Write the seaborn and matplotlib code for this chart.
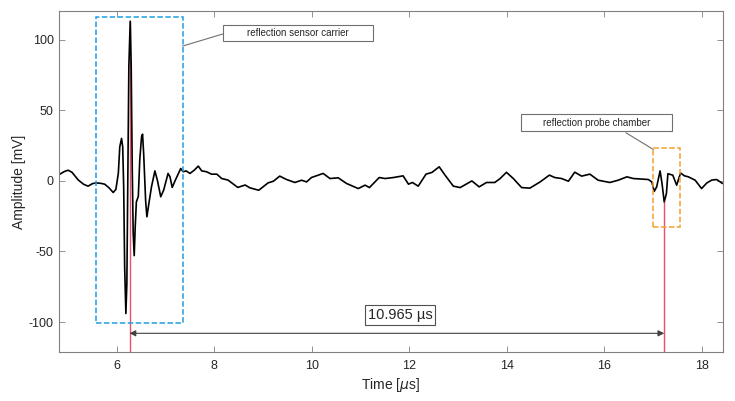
import matplotlib
matplotlib.use("Agg")
import matplotlib.pyplot as plt
import matplotlib.patches as patches
import seaborn as sns
import pandas as pd

# signal (time in us, amplitude in mV)
t_us = [4.82, 4.92, 5.00, 5.08, 5.21, 5.32, 5.41, 5.50, 5.58, 5.67, 5.75, 5.84, 5.925, 5.98,
        6.03, 6.06, 6.096, 6.12, 6.14, 6.16, 6.185, 6.205, 6.226, 6.246, 6.274, 6.294, 6.315,
        6.335, 6.356, 6.376, 6.40, 6.44, 6.47, 6.506, 6.527, 6.55, 6.59, 6.616, 6.657, 6.71,
        6.78, 6.83, 6.90, 6.96, 7.05, 7.09, 7.135, 7.20, 7.31, 7.36, 7.42, 7.50, 7.59, 7.67,
        7.74, 7.84, 7.94, 8.05, 8.15, 8.28, 8.48, 8.63, 8.73, 8.91, 9.10, 9.21, 9.34, 9.48,
        9.65, 9.79, 9.89, 9.99, 10.23, 10.37, 10.54, 10.71, 10.95, 11.09, 11.18, 11.38, 11.50,
        11.67, 11.87, 11.98, 12.06, 12.18, 12.34, 12.46, 12.61, 12.73, 12.90, 13.04, 13.28,
        13.43, 13.58, 13.75, 13.86, 13.99, 14.13, 14.30, 14.47, 14.68, 14.87, 14.98, 15.12,
        15.26, 15.39, 15.53, 15.70, 15.87, 16.11, 16.28, 16.46, 16.59, 16.90, 16.97, 17.02,
        17.07, 17.14, 17.18, 17.225, 17.27, 17.30, 17.40, 17.48, 17.56, 17.64, 17.72, 17.86,
        17.99, 18.10, 18.20, 18.30, 18.42]
amp_mv = [4.5, 6.5, 7.5, 6, 0.5, -2.5, -3.8, -2, -1.5, -1.8, -2.4, -5, -8.3, -6.1,
          5.2, 24, 30, 24, -4.3, -61, -94, -73, 10, 81, 113, 81, 10,
          -37, -53, -33, -15, -11, 15, 31, 33, 19, -14, -25.5, -16, -4.3,
          7, 0.5, -11.3, -6.6, 5.2, 2.8, -4.7, 0.5, 8.7, 6.4, 7, 5.2, 7.6, 10.4,
          7, 6.4, 4.7, 4.7, 1.6, 0.5, -4.7, -3, -5, -6.7, -1.5, -0.3, 3.3, 0.9,
          -1.2, 0.4, -0.8, 2.3, 5.2, 1.6, 2.1, -1.9, -5.5, -3.1, -4.8, 2.3, 1.6,
          2.3, 3.5, -2.4, -1.2, -3.8, 4.7, 5.9, 9.9, 4.0, -3.8, -4.8, -0.1,
          -4.3, -1.2, -1.2, 1.6, 6.0, 1.6, -4.8, -5.2, -0.8, 4.0, 2.3, 1.6,
          -0.3, 6.1, 3.3, 4.7, 0.4, -1.2, 0.4, 2.8, 1.6, 0.9, -0.8, -7.5,
          -4.3, 7.0, -2, -15, -9, 5.0, 4.0, -3.1, 5.5, 3.5, 2.8, 0.4,
          -5.5, -1.5, 0.5, 0.9, -1.9]

# the two reflections and the time between them
echo_t = [6.26, 17.225]
echo_amp = [113, -15]
delta_label = "10.965 µs"

xlim = (4.82, 18.42)
ylim = (-121, 120)

sns.set_style("ticks")
plt.rcParams["font.family"] = ["Liberation Sans", "DejaVu Sans"]
plt.rcParams["axes.unicode_minus"] = False

df = pd.DataFrame({"Time": t_us, "Amplitude": amp_mv})

fig = plt.figure(figsize=(7.35, 4.01), dpi=100)
ax = fig.add_axes([0.0807, 0.123, 0.9023, 0.8488])

# red markers at the two echoes
ax.vlines(echo_t, ylim[0], echo_amp, color="#e8506e", lw=1.0, zorder=1)

sns.lineplot(data=df, x="Time", y="Amplitude", ax=ax, color="black", lw=1.2, zorder=2)

# dashed windows round the reflections
ax.add_patch(patches.Rectangle((5.57, -100.5), 1.78, 216.5, fill=False, ec="#1f9fe0",
                               lw=1.1, ls=(0, (3.6, 1.6)), zorder=3))
ax.add_patch(patches.Rectangle((17.0, -33), 0.55, 56, fill=False, ec="#f5a02a",
                               lw=1.1, ls=(0, (3.6, 1.6)), zorder=3))

# labels with leader lines
ax.add_patch(patches.Rectangle((8.17, 98.9), 3.08, 11.4, fc="white", ec="#707070", lw=0.8, zorder=4))
ax.text(9.71, 104.6, "reflection sensor carrier", fontsize=7, ha="center", va="center", zorder=5)
ax.plot([8.17, 7.35], [103.9, 95.4], color="#707070", lw=0.8)

ax.add_patch(patches.Rectangle((14.28, 35.2), 3.10, 12.0, fc="white", ec="#707070", lw=0.8, zorder=4))
ax.text(15.83, 41.2, "reflection probe chamber", fontsize=7, ha="center", va="center", zorder=5)
ax.plot([16.44, 17.0], [34.0, 22.2], color="#707070", lw=0.8)

# time of flight arrow
ax.annotate("", xy=(echo_t[0], -108), xytext=(echo_t[1], -108),
            arrowprops=dict(arrowstyle="<|-|>", color="#404040", lw=0.8,
                            shrinkA=0, shrinkB=0, mutation_scale=9))
ax.text(11.81, -95, delta_label, fontsize=10.5, ha="center", va="center",
        bbox=dict(boxstyle="square,pad=0.2", fc="white", ec="#505050", lw=0.8))

ax.set_xlim(xlim)
ax.set_ylim(ylim)
ax.set_xticks([6, 8, 10, 12, 14, 16, 18])
ax.set_yticks([-100, -50, 0, 50, 100])
ax.tick_params(direction="in", top=True, right=True, length=4, width=0.6,
               color="#808080", labelsize=9, labelcolor="#262626")
ax.tick_params(axis="x", pad=6)
ax.tick_params(axis="y", pad=4)
for s in ax.spines.values():
    s.set_color("#808080")
    s.set_linewidth(0.8)

ax.set_xlabel("Time [$\\mu$s]", fontsize=10, color="#262626", labelpad=3)
ax.set_ylabel("Amplitude [mV]", fontsize=10, color="#262626", labelpad=2)

fig.savefig("out.png", dpi=100)
